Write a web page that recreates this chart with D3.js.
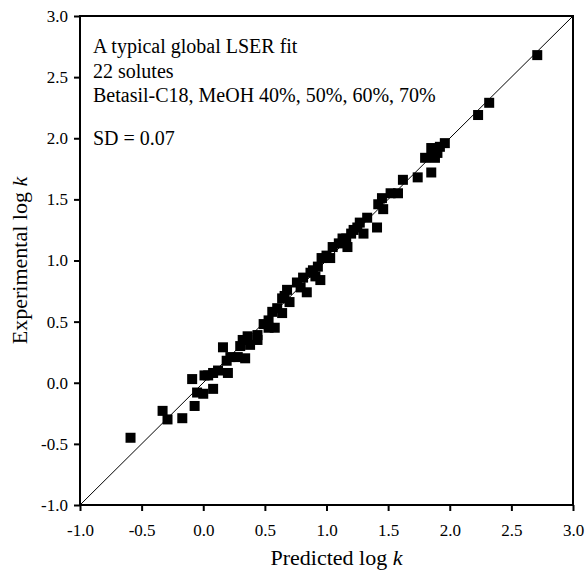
<!DOCTYPE html>
<html lang='en'>
<head>
    <meta charset='UTF-8'>
    <title>LSER fit</title>
    <script src='https://cdnjs.cloudflare.com/ajax/libs/d3/7.8.5/d3.min.js'></script>
    <style>
        body { margin: 0; background: #fff; }
        svg { font-family: 'Liberation Serif', 'Times New Roman', serif; }
    </style>
</head>
<body>
    <div id='anchor'></div>
    <script>
        // predicted vs experimental log k
        const predicted = [-0.59, -0.33, -0.29, -0.17, -0.07, -0.09, -0.05, 0.00, 0.08, 0.01,
            0.08, 0.20, 0.16, 0.22, 0.28, 0.34, 0.32, 0.38, 0.44, 0.44,
            0.53, 0.58, 0.53, 0.56, 0.60, 0.64, 0.64, 0.70, 0.68, 0.76,
            0.84, 0.87, 0.91, 0.95, 0.93, 0.96, 1.03, 1.05, 1.13, 1.17,
            1.22, 1.27, 1.30, 1.41, 1.46, 1.45, 1.52, 1.58, 1.62, 1.74,
            1.85, 1.85, 1.90, 1.88, 1.96, 2.23, 2.32, 2.71,
            0.04, 0.12, 0.19, 0.30, 0.36, 0.49, 0.66, 0.79, 0.81, 0.89,
            1.00, 1.10, 1.16, 1.20, 1.25, 1.33, 1.42, 1.80, 1.92];
        const experimental = [-0.45, -0.23, -0.30, -0.29, -0.19, 0.03, -0.08, -0.09, -0.05, 0.06,
            0.08, 0.08, 0.29, 0.21, 0.21, 0.20, 0.35, 0.31, 0.39, 0.35,
            0.45, 0.45, 0.51, 0.58, 0.61, 0.57, 0.69, 0.66, 0.76, 0.82,
            0.74, 0.90, 0.87, 0.84, 0.95, 1.02, 1.02, 1.11, 1.18, 1.11,
            1.25, 1.31, 1.22, 1.27, 1.42, 1.51, 1.55, 1.55, 1.66, 1.68,
            1.72, 1.92, 1.88, 1.84, 1.96, 2.19, 2.29, 2.68,
            0.06, 0.10, 0.18, 0.30, 0.38, 0.48, 0.71, 0.78, 0.86, 0.92,
            1.04, 1.14, 1.18, 1.22, 1.27, 1.35, 1.46, 1.84, 1.93];
        const ticks = [-1.0, -0.5, 0.0, 0.5, 1.0, 1.5, 2.0, 2.5, 3.0];
        const notes = ['A typical global LSER fit', '22 solutes', 'Betasil-C18, MeOH 40%, 50%, 60%, 70%'];
        const sdNote = 'SD = 0.07';

        const width = 585, height = 572;
        const margin = { top: 16, right: 12, bottom: 67, left: 80 };

        const svg = d3.select('#anchor').append('svg')
            .attr('width', width)
            .attr('height', height);

        const x = d3.scaleLinear().domain([-1, 3]).range([margin.left, width - margin.right]);
        const y = d3.scaleLinear().domain([-1, 3]).range([height - margin.bottom, margin.top]);

        // diagonal line y = x
        svg.append('line')
            .attr('x1', x(-1)).attr('y1', y(-1))
            .attr('x2', x(3)).attr('y2', y(3))
            .attr('stroke', '#000')
            .attr('stroke-width', 1);

        // points
        const size = 10;
        svg.append('g')
            .selectAll('rect')
            .data(predicted.map((p, i) => [p, experimental[i]]))
            .join('rect')
            .attr('x', d => x(d[0]) - size / 2)
            .attr('y', d => y(d[1]) - size / 2)
            .attr('width', size)
            .attr('height', size)
            .attr('fill', '#000');

        // frame
        svg.append('rect')
            .attr('x', x(-1)).attr('y', y(3))
            .attr('width', x(3) - x(-1))
            .attr('height', y(-1) - y(3))
            .attr('fill', 'none')
            .attr('stroke', '#000')
            .attr('stroke-width', 2);

        const xAxis = svg.append('g')
            .attr('transform', `translate(0,${y(-1)})`)
            .call(d3.axisBottom(x).tickValues(ticks).tickSize(6).tickPadding(13));
        const yAxis = svg.append('g')
            .attr('transform', `translate(${x(-1)},0)`)
            .call(d3.axisLeft(y).tickValues(ticks).tickSize(6).tickPadding(6));

        [xAxis, yAxis].forEach(g => {
            g.select('.domain').remove();
            g.selectAll('.tick line').attr('stroke-width', 2);
            g.selectAll('.tick text')
                .attr('font-family', "'Liberation Serif', serif")
                .attr('font-size', 17)
                .text(d => d3.format('.1f')(d).replace('−', '-'));
        });

        // annotation
        const note = svg.append('g')
            .attr('font-size', 20);
        note.selectAll('text')
            .data(notes)
            .join('text')
            .attr('x', 93)
            .attr('y', (d, i) => 53 + i * 24.5)
            .text(d => d);
        note.append('text')
            .attr('x', 93)
            .attr('y', 145)
            .text(sdNote);

        // axis titles
        const xTitle = svg.append('text')
            .attr('x', (x(-1) + x(3)) / 2 + 10)
            .attr('y', 565)
            .attr('text-anchor', 'middle')
            .attr('font-size', 22);
        xTitle.append('tspan').text('Predicted log ');
        xTitle.append('tspan').attr('font-style', 'italic').text('k');

        const yTitle = svg.append('text')
            .attr('transform', `translate(27,${(y(-1) + y(3)) / 2}) rotate(-90)`)
            .attr('text-anchor', 'middle')
            .attr('font-size', 22);
        yTitle.append('tspan').text('Experimental log  ');
        yTitle.append('tspan').attr('font-style', 'italic').text('k');
    </script>
</body>
</html>
